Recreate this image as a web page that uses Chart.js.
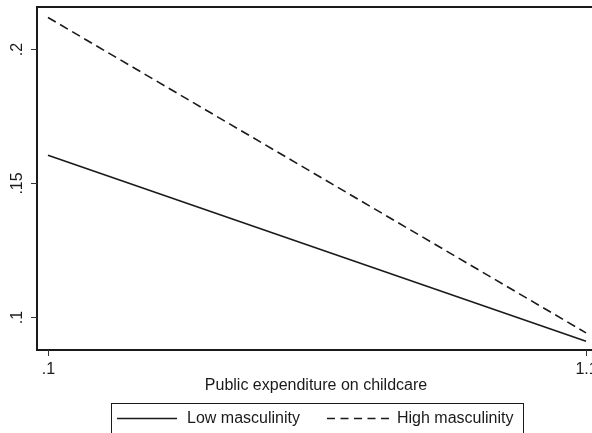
<!DOCTYPE html>
<html>
<head>
<meta charset="utf-8">
<script src="https://cdn.jsdelivr.net/npm/chart.js@4/dist/chart.umd.min.js"></script>
<style>
  html, body { margin: 0; padding: 0; background: #fff; overflow: hidden; }
  #wrap { width: 592px; height: 433px; overflow: hidden; position: relative; }
  canvas { position: absolute; left: 0; top: 0; }
</style>
</head>
<body>
<div id="wrap"><canvas id="c" width="600" height="433"></canvas></div>
<script>
// Predicted share by public expenditure on childcare
const expenditure = [0.1, 1.1];
const lowMasculinity = [0.1604, 0.0910];
const highMasculinity = [0.2118, 0.0941];
const seriesNames = ['Low masculinity', 'High masculinity'];
const yTickValues = [0.1, 0.15, 0.2];
const yTickLabels = ['.1', '.15', '.2'];
const xTickValues = [0.1, 1.1];
const xTickLabels = ['.1', '1.1'];
const xTitle = 'Public expenditure on childcare';

const FONT = '"Liberation Sans", Arial, sans-serif';
const INK = '#1a1a1a';

const stataFrame = {
  id: 'stataFrame',
  afterDraw(chart) {
    const ctx = chart.ctx;
    const a = chart.chartArea;
    const xs = chart.scales.x, ys = chart.scales.y;
    ctx.save();
    // plot region border
    ctx.strokeStyle = INK;
    ctx.lineWidth = 2;
    ctx.strokeRect(a.left, a.top, a.right - a.left, a.bottom - a.top);

    ctx.lineWidth = 1;
    ctx.strokeStyle = '#333';
    ctx.fillStyle = INK;
    ctx.font = '16px ' + FONT;

    // y ticks and rotated labels
    yTickValues.forEach((v, i) => {
      const py = Math.round(ys.getPixelForValue(v)) + 0.5;
      ctx.beginPath();
      ctx.moveTo(a.left - 6, py);
      ctx.lineTo(a.left, py);
      ctx.stroke();
      ctx.save();
      ctx.translate(a.left - 19, py);
      ctx.rotate(-Math.PI / 2);
      ctx.textAlign = 'center';
      ctx.textBaseline = 'middle';
      ctx.fillText(yTickLabels[i], 0, 0);
      ctx.restore();
    });

    // x ticks and labels
    xTickValues.forEach((v, i) => {
      const px = Math.round(xs.getPixelForValue(v)) + 0.5;
      ctx.beginPath();
      ctx.moveTo(px, a.bottom);
      ctx.lineTo(px, a.bottom + 6);
      ctx.stroke();
      ctx.textAlign = 'center';
      ctx.textBaseline = 'middle';
      ctx.fillText(xTickLabels[i], px, a.bottom + 20);
    });

    // axis title
    ctx.textAlign = 'center';
    ctx.textBaseline = 'middle';
    ctx.fillText(xTitle, (a.left + a.right) / 2, a.bottom + 36);

    // legend
    const boxL = 111, boxT = 403, boxR = 523;
    ctx.strokeStyle = INK;
    ctx.lineWidth = 1;
    ctx.strokeRect(boxL + 0.5, boxT + 0.5, boxR - boxL, 40);
    const ly = 418.5;
    const items = [
      { x0: 117, x1: 177, tx: 187, ds: chart.data.datasets[0] },
      { x0: 327, x1: 389, tx: 397, ds: chart.data.datasets[1] }
    ];
    items.forEach(it => {
      ctx.save();
      ctx.strokeStyle = it.ds.borderColor;
      ctx.lineWidth = 1.5;
      ctx.setLineDash(it.ds.borderDash && it.ds.borderDash.length ? [8, 5.5] : []);
      ctx.beginPath();
      ctx.moveTo(it.x0, ly);
      ctx.lineTo(it.x1, ly);
      ctx.stroke();
      ctx.restore();
      ctx.textAlign = 'left';
      ctx.textBaseline = 'middle';
      ctx.fillText(it.ds.label, it.tx, ly);
    });
    ctx.restore();
  }
};

new Chart(document.getElementById('c'), {
  type: 'line',
  data: {
    datasets: [
      {
        label: seriesNames[0],
        data: expenditure.map((x, i) => ({ x, y: lowMasculinity[i] })),
        borderColor: INK,
        borderWidth: 1.6,
        pointRadius: 0,
        tension: 0,
        fill: false
      },
      {
        label: seriesNames[1],
        data: expenditure.map((x, i) => ({ x, y: highMasculinity[i] })),
        borderColor: INK,
        borderWidth: 1.6,
        borderDash: [9, 5],
        pointRadius: 0,
        tension: 0,
        fill: false
      }
    ]
  },
  options: {
    responsive: false,
    devicePixelRatio: 1,
    animation: false,
    layout: { padding: { left: 37, top: 7, right: 5, bottom: 83 } },
    plugins: { legend: { display: false }, tooltip: { enabled: false } },
    scales: {
      x: { type: 'linear', display: false, min: 0.0796, max: 1.1167 },
      y: { type: 'linear', display: false, min: 0.0877, max: 0.2157 }
    }
  },
  plugins: [stataFrame]
});
</script>
</body>
</html>
